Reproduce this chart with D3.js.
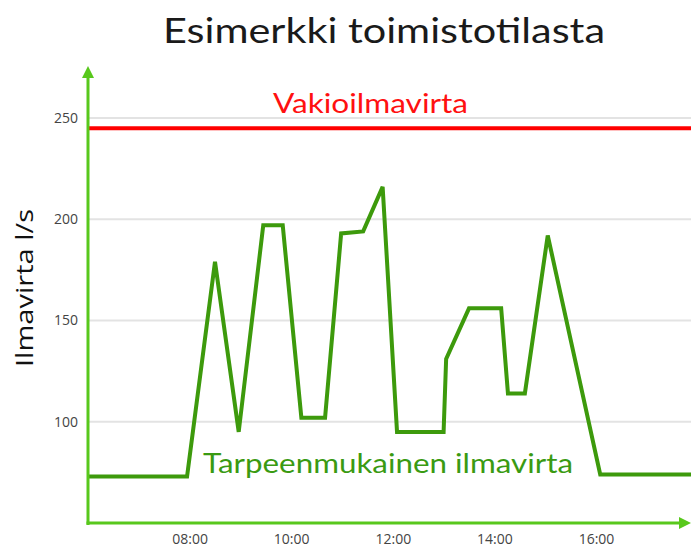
<!DOCTYPE html>
<html>
<head>
<meta charset="utf-8">
<script src="https://cdn.jsdelivr.net/npm/d3@7"></script>
<style>
  body { margin: 0; background: #fff; }
  svg { display: block; }
</style>
</head>
<body>
<div id="chart"></div>
<script>
// Data: aika (hh:mm) ja tarpeenmukainen ilmavirta l/s
var ajat = ["06:00", "07:57", "08:30", "08:58", "09:27", "09:50", "10:12", "10:40",
            "10:59", "11:25", "11:48", "12:05", "13:00", "13:03", "13:30", "14:08",
            "14:16", "14:36", "15:03", "16:05", "18:00"];
var ilmavirta = [73, 73, 179, 95, 197, 197, 102, 102,
                 193, 194, 216, 95, 95, 131, 156, 156,
                 114, 114, 192, 74, 74];
var vakio = 245;
var yTicks = [100, 150, 200, 250];
var xTicks = ["08:00", "10:00", "12:00", "14:00", "16:00"];

var W = 691, H = 550;
var green = "#3d9a0c", axisGreen = "#58c81c";

function hours(s) {
    var p = s.split(":");
    return +p[0] + (+p[1]) / 60;
}

var svg = d3.select("#chart").append("svg")
    .attr("width", W).attr("height", H);

var x = d3.scaleLinear().domain([6, 18]).range([88, 697.6]);
var y = d3.scaleLinear().domain([50, 250]).range([523, 118]);

// Otsikko
svg.append("text")
    .attr("x", 384).attr("y", 43)
    .attr("text-anchor", "middle")
    .attr("font-family", "Lato, sans-serif")
    .attr("font-size", 35)
    .attr("fill", "#1a1a1a")
    .attr("textLength", 442)
    .attr("lengthAdjust", "spacingAndGlyphs")
    .text("Esimerkki toimistotilasta");

// Vaakaviivat
svg.append("g").selectAll("line")
    .data(yTicks)
    .enter().append("line")
    .attr("x1", 88).attr("x2", W)
    .attr("y1", d => y(d)).attr("y2", d => y(d))
    .attr("stroke", "#e3e3e3")
    .attr("stroke-width", 2);

// Y-akselin arvot
var yAxis = d3.axisLeft(y).tickValues(yTicks).tickSize(0).tickPadding(10);
var gy = svg.append("g").attr("transform", "translate(88,0)").call(yAxis);
gy.select(".domain").remove();
gy.selectAll("text")
    .attr("font-family", "'Open Sans', sans-serif")
    .attr("font-size", 14)
    .attr("fill", "#444");

// X-akselin arvot
var xAxis = d3.axisBottom(x).tickValues(xTicks.map(hours))
    .tickFormat((d, i) => xTicks[i]).tickSize(0).tickPadding(11);
var gx = svg.append("g").attr("transform", "translate(0,523)").call(xAxis);
gx.select(".domain").remove();
gx.selectAll("text")
    .attr("font-family", "'Open Sans', sans-serif")
    .attr("font-size", 14)
    .attr("fill", "#444");

// Akselin otsikko
svg.append("text")
    .attr("transform", "translate(33,288) rotate(-90)")
    .attr("text-anchor", "middle")
    .attr("font-family", "'Open Sans', sans-serif")
    .attr("font-size", 23)
    .attr("fill", "#111")
    .attr("textLength", 158)
    .attr("lengthAdjust", "spacingAndGlyphs")
    .text("Ilmavirta l/s");

// Vakioilmavirta
svg.append("line")
    .attr("x1", 88).attr("x2", W)
    .attr("y1", y(vakio)).attr("y2", y(vakio))
    .attr("stroke", "#ff0000")
    .attr("stroke-width", 4);

svg.append("text")
    .attr("x", 273).attr("y", 113)
    .attr("font-family", "Lato, sans-serif")
    .attr("font-size", 26)
    .attr("fill", "#ff1010")
    .attr("textLength", 195)
    .attr("lengthAdjust", "spacingAndGlyphs")
    .text("Vakioilmavirta");

// Tarpeenmukainen ilmavirta
var data = ajat.map((t, i) => ({ h: hours(t), v: ilmavirta[i] }));
var line = d3.line().x(d => x(d.h)).y(d => y(d.v));

svg.append("clipPath").attr("id", "clip")
    .append("rect").attr("x", 88).attr("y", 60).attr("width", W - 88).attr("height", 470);

svg.append("path")
    .datum(data)
    .attr("clip-path", "url(#clip)")
    .attr("d", line)
    .attr("fill", "none")
    .attr("stroke", green)
    .attr("stroke-width", 4)
    .attr("stroke-linejoin", "miter");

svg.append("text")
    .attr("x", 203).attr("y", 473)
    .attr("font-family", "Lato, sans-serif")
    .attr("font-size", 27)
    .attr("fill", "#3a9a12")
    .attr("textLength", 370)
    .attr("lengthAdjust", "spacingAndGlyphs")
    .text("Tarpeenmukainen ilmavirta");

// Akselit nuolilla
svg.append("line")
    .attr("x1", 88).attr("x2", 88).attr("y1", 525).attr("y2", 72)
    .attr("stroke", axisGreen).attr("stroke-width", 3);
svg.append("path")
    .attr("d", "M88,66 L82,78 L94,78 Z")
    .attr("fill", axisGreen);

svg.append("line")
    .attr("x1", 86.5).attr("x2", 684).attr("y1", 523).attr("y2", 523)
    .attr("stroke", axisGreen).attr("stroke-width", 3);
svg.append("path")
    .attr("d", "M691,523 L679,517 L679,529 Z")
    .attr("fill", axisGreen);
</script>
</body>
</html>
